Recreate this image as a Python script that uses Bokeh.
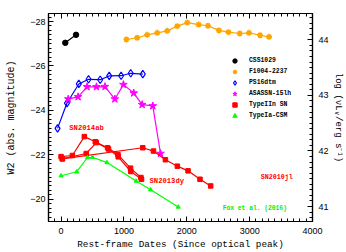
import math
from bokeh.plotting import figure
from bokeh.models import (Range1d, LinearAxis, SingleIntervalTicker,
                          Legend, LegendItem, Label)
from bokeh.embed import file_html
from bokeh.resources import INLINE

# ---------------- data ----------------
css_x = [67, 238]
css_y = [-27.04, -27.40]

f1004_x = [1040, 1211, 1370, 1530, 1689, 1849, 2008, 2188, 2337, 2512, 2662, 2842, 2990, 3166, 3309]
f1004_y = [-27.19, -27.27, -27.40, -27.49, -27.58, -27.79, -27.95, -27.86, -27.81, -27.60,
           -27.52, -27.46, -27.49, -27.38, -27.31]

ps_x = [-56, 94, 282, 437, 622, 766, 955, 1108, 1300]
ps_y = [-23.19, -24.33, -25.19, -25.40, -25.38, -25.55, -25.56, -25.67, -25.63]

asas_x = [115, 271, 413, 563, 699, 856, 992, 1156, 1290, 1459, 1582]
asas_y = [-24.51, -24.61, -25.06, -25.06, -25.07, -24.51, -25.16, -24.78, -24.26, -24.20, -22.06]

sn14ab_x = [0, 180, 370, 545, 740, 905, 1105, 1270]
sn14ab_y = [-21.92, -21.97, -22.82, -22.59, -22.32, -22.01, -21.40, -20.98]

sn13dy_x = [20, 400, 560, 755, 910, 1110, 1280]
sn13dy_y = [-21.82, -22.06, -22.55, -22.26, -21.91, -21.25, -20.90]

sn10jl_x = [20, 1300, 1470, 1660, 1850, 2020, 2210, 2380]
sn10jl_y = [-21.82, -22.32, -22.17, -21.78, -21.49, -21.28, -20.90, -20.60]

iacsm_x = [0, 250, 420, 500, 730, 1195, 1425, 1865]
iacsm_y = [-21.06, -21.24, -21.88, -21.89, -21.65, -20.82, -20.43, -19.65]

legend_names = ["CSS1029", "F1004-2237", "PS16dtm", "ASASSN-15lh", "TypeIIn SN", "TypeIa-CSM"]

y_ticks = [-28, -26, -24, -22, -20]
y_tick_labels = ["\u221228", "\u221226", "\u221224", "\u221222", "\u221220"]
x_ticks = [0, 1000, 2000, 3000, 4000]

# conversion M -> log(nu L_nu)
L0 = 33.13

X_RANGE = (-200, 4000)
Y_RANGE = (-19.0, -28.36)

TICK_FONT = "Liberation Sans"
LABEL_FONT = "Liberation Mono"

p = figure(width=346, height=252, output_backend="svg", toolbar_location=None,
           x_range=Range1d(*X_RANGE), y_range=Range1d(*Y_RANGE),
           min_border_left=48, min_border_right=34, min_border_top=13, min_border_bottom=30)
p.background_fill_color = "white"
p.border_fill_color = "white"
p.outline_line_color = "black"
p.outline_line_width = 1.2
p.xgrid.visible = False
p.ygrid.visible = False

p.extra_y_ranges = {"L": Range1d(L0 - 0.4 * Y_RANGE[0], L0 - 0.4 * Y_RANGE[1])}


def style_axis(ax):
    ax.axis_line_color = "black"
    ax.axis_line_width = 1.2
    ax.major_tick_in = 5
    ax.major_tick_out = 0
    ax.minor_tick_in = 3
    ax.minor_tick_out = 0
    ax.major_tick_line_color = "black"
    ax.minor_tick_line_color = "black"
    ax.major_label_text_font = TICK_FONT
    ax.major_label_text_font_size = "9px"
    ax.major_label_text_color = "black"
    ax.axis_label_text_font = LABEL_FONT
    ax.axis_label_text_font_size = "9.3px"
    ax.axis_label_text_font_style = "normal"
    ax.axis_label_text_color = "black"


# bottom axis
xa = p.xaxis[0]
xa.ticker = SingleIntervalTicker(interval=1000, num_minor_ticks=10)
style_axis(xa)
xa.axis_label = "Rest-frame Dates (Since optical peak)"
xa.major_label_standoff = 6
xa.axis_label_standoff = 2

# left axis
ya = p.yaxis[0]
ya.ticker = SingleIntervalTicker(interval=2, num_minor_ticks=10)
style_axis(ya)
ya.major_label_overrides = {t: l for t, l in zip(y_ticks, y_tick_labels)}
ya.axis_label = "W2 (abs. magnitude)"
ya.axis_label_text_font_size = "10px"
ya.major_label_standoff = 3
ya.axis_label_standoff = 10

# top axis (ticks only)
ta = LinearAxis(ticker=SingleIntervalTicker(interval=1000, num_minor_ticks=10))
style_axis(ta)
ta.major_label_overrides = {t: "" for t in x_ticks + [-1000, 5000]}
ta.major_label_standoff = 0
p.add_layout(ta, "above")

# right axis (luminosity)
ra = LinearAxis(y_range_name="L", ticker=SingleIntervalTicker(interval=1, num_minor_ticks=10))
style_axis(ra)
ra.major_label_standoff = 6
ra.axis_label = "log (\u03bdL\u1d65/erg s\u207b\u00b9)"
ra.axis_label_text_font_size = "9px"
ra.axis_label_standoff = 1
p.add_layout(ra, "right")

# ---------------- series ----------------
p.line(css_x, css_y, line_color="black", line_width=1.2)
r_css = p.scatter(css_x, css_y, marker="circle", size=5.5, fill_color="black", line_color="black")

p.line(f1004_x, f1004_y, line_color="#FFA500", line_width=1.2)
r_f = p.scatter(f1004_x, f1004_y, marker="asterisk", size=6, line_color="#FFA500", line_width=1.6)

p.line(ps_x, ps_y, line_color="#0000FF", line_width=1.2)
r_ps = p.scatter(ps_x, ps_y, marker="diamond", size=7.5, fill_color=None, line_color="#0000FF", line_width=1.2)

p.line(asas_x, asas_y, line_color="#FF00FF", line_width=1.2)
r_as = p.scatter(asas_x, asas_y, marker="star", size=8, fill_color="#FF00FF", line_color="#FF00FF")

r_red = None
for xs, ys in [(sn14ab_x, sn14ab_y), (sn13dy_x, sn13dy_y), (sn10jl_x, sn10jl_y)]:
    p.line(xs, ys, line_color="#FF0000", line_width=1.2)
    rr = p.scatter(xs, ys, marker="square", size=4.5, fill_color="#FF0000", line_color="#FF0000")
    if r_red is None:
        r_red = rr

p.line(iacsm_x, iacsm_y, line_color="#00FF00", line_width=1.2)
r_g = p.scatter(iacsm_x, iacsm_y, marker="triangle", size=4, fill_color="#00FF00", line_color="#00FF00")

# ---------------- legend ----------------
items = [LegendItem(label=n, renderers=[r]) for n, r in
         zip(legend_names, [r_css, r_f, r_ps, r_as, r_red, r_g])]
leg = Legend(items=items, location=(181, 100), glyph_width=11, glyph_height=11,
             label_height=7, spacing=-2, padding=0, margin=0, label_standoff=9,
             label_text_font=LABEL_FONT, label_text_font_size="6.4px",
             label_text_font_style="bold", label_text_color="black",
             border_line_color=None, background_fill_alpha=0)
p.add_layout(leg, "center")

# ---------------- annotations ----------------
ann = [("SN2014ab", 131, -23.21, "#FF0000", "7.2px"),
       ("SN2013dy", 1407, -20.82, "#FF0000", "7.2px"),
       ("SN2010jl", 3177, -21.00, "#FF0000", "6.7px"),
       ("Fox et al. (2016)", 2571, -19.57, "#00EE00", "6.3px")]
for t, ax_, ay_, c, fs in ann:
    p.add_layout(Label(x=ax_, y=ay_, text=t, text_color=c, text_font=LABEL_FONT,
                       text_font_size=fs, text_font_style="bold", text_baseline="middle",
                       text_align="left"))

open("out.html", "w").write(file_html(p, INLINE))
